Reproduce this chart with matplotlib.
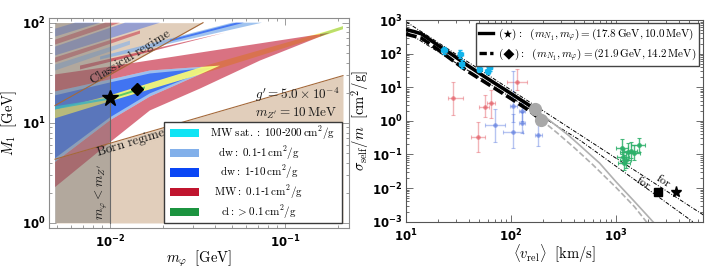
import numpy as np
import matplotlib
matplotlib.use("Agg")
import matplotlib.pyplot as plt
import matplotlib.ticker as mticker
from matplotlib.lines import Line2D
from matplotlib.patches import Rectangle
from matplotlib.font_manager import FontProperties

# ---------------------------------------------------------------------------
# Left panel data: (m_phi [GeV], M_1 [GeV]) plane
# ---------------------------------------------------------------------------
M_PHI_MIN, M_PHI_MAX = 0.00485, 0.2145
M1_MIN, M1_MAX = 1.0, 100.0
M_ZP = 0.01

born_m = [0.00485, 0.2145]
born_M = [4.33, 29.6]
classical_m = [0.00485, 0.0340]
classical_M = [14.9, 100.0]

# MW (0.1-1 cm^2/g) region, with the notch where the dw bands sit
red_m = [0.00485, 0.0100, 0.0327, 0.181, 0.0720, 0.0327, 0.0169, 0.0100, 0.00485,
         0.00485, 0.0100, 0.0169, 0.0425, 0.0169, 0.0100, 0.00485]
red_M = [30.4, 36.5, 50.3, 79.5, 41.9, 22.0, 13.3, 6.40, 2.28,
         4.05, 10.6, 18.3, 37.3, 33.3, 27.1, 20.6]
red2_m = [0.00674, 0.0454, 0.00674]
red2_M = [37.3, 79.5, 34.1]

# dw bands
halo_m = [0.00485, 0.0100, 0.0169, 0.0425, 0.0169, 0.0100, 0.00485]
halo_M = [20.6, 27.1, 33.3, 37.3, 18.3, 10.6, 4.05]
blue_m = [0.00485, 0.0100, 0.0169, 0.0388, 0.0169, 0.0100, 0.00485]
blue_M = [18.8, 25.3, 31.1, 35.7, 19.7, 11.35, 4.43]
lb_up_m = [0.00877, 0.0498, 0.0739, 0.00877]
lb_up_M = [45.9, 100.0, 100.0, 42.9]
blue_up_m = [0.0220, 0.0525, 0.0583, 0.0220]
blue_up_M = [67.7, 100.0, 100.0, 64.7]

# narrow core bands
yellow_m = [0.00485, 0.0100, 0.0388, 0.181, 0.2145, 0.2145, 0.181, 0.0388, 0.0100, 0.00485]
yellow_M = [13.6, 18.8, 39.1, 84.2, 92.3, 86.1, 77.8, 33.3, 16.4, 11.1]
sat_m = [0.00485, 0.0100, 0.0100, 0.00485]
sat_M = [14.6, 17.9, 17.1, 13.6]
cl_core_m = [0.0100, 0.01585, 0.01585, 0.0100]
cl_core_M = [17.9, 23.1, 22.0, 17.1]
cl_tip_m = [0.1585, 0.2145, 0.2145, 0.1585]
cl_tip_M = [77.8, 92.3, 86.1, 72.6]

# stripes in the classical corner
stripe_a_m = [0.00485, 0.00631, 0.00877, 0.00485]
stripe_a_M = [87.1, 100.0, 100.0, 72.6]
stripe_b_m = [0.00485, 0.00936, 0.0114, 0.00485]
stripe_b_M = [67.7, 100.0, 100.0, 60.4]
stripe_c_m = [0.00485, 0.01218, 0.01931, 0.00485]
stripe_c_M = [57.7, 100.0, 100.0, 47.0]
stripe_d_m = [0.00485, 0.01484, 0.01484, 0.00485]
stripe_d_M = [44.9, 83.3, 77.8, 40.0]
stripe_e_m = [0.00485, 0.0130, 0.0130, 0.00485]
stripe_e_M = [38.2, 66.2, 60.4, 33.3]

bench_star = (0.0100, 17.8)
bench_dia = (0.0142, 21.9)

# ---------------------------------------------------------------------------
# Right panel data: sigma/m [cm^2/g] vs <v_rel> [km/s]
# ---------------------------------------------------------------------------
star_v = [10, 12, 14, 20, 28, 38, 60, 100, 140, 170]
star_s = [520, 450, 390, 180, 90, 46, 18, 6.5, 3.3, 2.2]
dia_v = [10, 12, 14, 20, 28, 38, 60, 100, 150, 195]
dia_s = [380, 330, 290, 135, 62, 31, 12.6, 4.6, 2.0, 1.06]
star_tail_v = [170, 250, 350, 450, 700, 1000, 1500, 2000, 2400]
star_tail_s = [2.2, 0.87, 0.38, 0.19, 0.055, 0.0155, 0.004, 0.0015, 0.0008]
dia_tail_v = [195, 280, 400, 600, 1000, 1500, 2000]
dia_tail_s = [1.06, 0.42, 0.16, 0.05, 0.0105, 0.0028, 0.0009]
for_star_v = [10, 7000]
for_star_s = [890, 1.5e-3]
for_dia_v = [10, 100, 450, 1500, 5400]
for_dia_s = [450, 5.0, 0.27, 0.018, 0.001]

sat_v = [23, 33, 34, 50, 60, 62, 63]
sat_s = [125, 100, 50, 36, 31, 52, 40]
sat_v_err = [1.5, 2, 2, 2.5, 3, 3, 3]
sat_s_lo = [30, 25, 12, 8, 7, 12, 10]
sat_s_hi = [35, 30, 15, 10, 9, 15, 12]

mw_v = [28, 48, 56, 65, 113]
mw_s = [4.7, 0.34, 2.6, 3.5, 14.6]
mw_v_lo = [3, 6, 6, 6, 22]
mw_v_hi = [7, 9, 6, 6, 28]
mw_s_lo = [3.2, 0.22, 1.3, 2.3, 6.4]
mw_s_hi = [9.3, 0.61, 3.3, 5.0, 21]

dw_v = [70, 105, 105, 126, 126, 182]
dw_s = [0.75, 0.48, 2.75, 1.9, 0.84, 0.38]
dw_v_lo = [14, 21, 8, 8, 8, 12]
dw_v_hi = [18, 26, 10, 10, 10, 14]
dw_s_lo = [0.51, 0.32, 1.8, 0.9, 0.4, 0.2]
dw_s_hi = [1.55, 1.1, 28, 2.0, 1.0, 0.4]

cl_v = [1150, 1250, 1300, 1400, 1500, 1650, 1200, 1180]
cl_s = [0.16, 0.07, 0.12, 0.13, 0.11, 0.19, 0.055, 0.085]
cl_v_err = [150, 150, 200, 200, 200, 250, 150, 150]
cl_s_lo = [0.06, 0.03, 0.05, 0.05, 0.04, 0.07, 0.02, 0.03]
cl_s_hi = [0.12, 0.05, 0.10, 0.10, 0.08, 0.12, 0.04, 0.06]

# ---------------------------------------------------------------------------
COLORS = {
    "sat": "#10E4F4",
    "dw_lo": "#82B0EA",
    "dw_hi": "#0A46F5",
    "mw": "#C0152F",
    "cl": "#1C9440",
    "yellow": "#FFFF72",
    "tan": "#E1CEBB",
    "edge": "#A4693A",
}
SERIF = "DejaVu Serif"


def log_fmt(v, _):
    return r"$\mathbf{10^{%d}}$" % int(round(np.log10(v)))


def style_axes(ax, frame_color):
    for sp in ax.spines.values():
        sp.set_color(frame_color)
        sp.set_linewidth(0.8)
    ax.tick_params(which="both", direction="in", top=True, right=True,
                   color=frame_color, width=0.6, labelcolor="black")
    ax.tick_params(which="major", length=5, labelsize=8.5, pad=2.5)
    ax.tick_params(which="minor", length=2.5)
    ax.tick_params(axis="x", which="major", pad=4)
    for axis in (ax.xaxis, ax.yaxis):
        axis.set_major_locator(mticker.LogLocator(base=10, numticks=20))
        axis.set_minor_locator(mticker.LogLocator(base=10, subs=np.arange(2, 10), numticks=20))
        axis.set_major_formatter(mticker.FuncFormatter(log_fmt))
        axis.set_minor_formatter(mticker.NullFormatter())


fig = plt.figure(figsize=(7.06, 2.72), dpi=100)
fig.patch.set_facecolor("white")

# ------------------------------- left panel --------------------------------
ax = fig.add_axes([0.0694, 0.1618, 0.4249, 0.7721])
ax.set_xscale("log")
ax.set_yscale("log")
ax.set_xlim(0.004481, 0.2321)
ax.set_ylim(0.891, 111.4)

ax.fill_between(born_m, born_M, M1_MIN, color=COLORS["tan"], lw=0, zorder=1)
ax.fill_between(classical_m, classical_M, M1_MAX, color=COLORS["tan"], lw=0, zorder=1)

for sm, sM, c, a in [(stripe_a_m, stripe_a_M, COLORS["dw_hi"], 0.35),
                     (stripe_b_m, stripe_b_M, COLORS["mw"], 0.45),
                     (stripe_c_m, stripe_c_M, COLORS["dw_hi"], 0.35),
                     (stripe_d_m, stripe_d_M, COLORS["mw"], 0.45),
                     (stripe_e_m, stripe_e_M, COLORS["dw_lo"], 0.6)]:
    ax.fill(sm, sM, color=c, alpha=a, lw=0, zorder=2)

ax.fill(lb_up_m, lb_up_M, color=COLORS["dw_lo"], alpha=0.75, lw=0, zorder=2)
ax.fill(blue_up_m, blue_up_M, color=COLORS["dw_hi"], alpha=0.6, lw=0, zorder=2)
ax.fill(red2_m, red2_M, color=COLORS["mw"], alpha=0.6, lw=0, zorder=2)
ax.fill(halo_m, halo_M, color=COLORS["dw_lo"], alpha=0.8, lw=0, zorder=2)
ax.fill(blue_m, blue_M, color=COLORS["dw_hi"], alpha=0.62, lw=0, zorder=2)
ax.fill(yellow_m, yellow_M, color=COLORS["yellow"], alpha=0.9, lw=0, zorder=3)
ax.fill(sat_m, sat_M, color=COLORS["sat"], alpha=0.85, lw=0, zorder=3)
ax.fill(cl_core_m, cl_core_M, color="#3CC060", alpha=0.8, lw=0, zorder=3)
ax.fill(red_m, red_M, color=COLORS["mw"], alpha=0.6, lw=0, zorder=3)
ax.fill(cl_tip_m, cl_tip_M, color=COLORS["cl"], alpha=0.3, lw=0, zorder=3)

# m_phi < m_Z' shading
ax.fill_between([M_PHI_MIN, M_ZP], M1_MIN, M1_MAX, color="#7A7A7A", alpha=0.45, lw=0, zorder=5)
ax.plot([M_ZP, M_ZP], [M1_MIN, M1_MAX], color="#6A6A6A", lw=0.8, zorder=6)
ax.plot(born_m, born_M, color=COLORS["edge"], lw=0.8, zorder=6)
ax.plot(classical_m, classical_M, color=COLORS["edge"], lw=0.8, zorder=6)

ax.plot(*bench_star, marker="*", ms=12, color="black", zorder=8)
ax.plot(*bench_dia, marker="D", ms=6, color="black", zorder=8)

tkw = dict(math_fontfamily="cm", family=SERIF, color="#1A1A1A", zorder=9)
ax.text(0.01300, 45.5, r"$\mathrm{Classical\ regime}$", fontsize=9.5, rotation=32,
        ha="center", va="center", **tkw)
ax.text(0.01318, 6.25, r"$\mathrm{Born\ regime}$", fontsize=9.5, rotation=17,
        ha="center", va="center", **tkw)
ax.text(0.00905, 2.03, r"$m_\varphi < m_{Z'}$", fontsize=9.5, rotation=90,
        ha="center", va="center", **tkw)
ax.text(0.688, 0.633, r"$g' = 5.0\times 10^{-4}$", transform=ax.transAxes, fontsize=9.5,
        ha="left", va="center", **tkw)
ax.text(0.688, 0.548, r"$m_{Z'} = 10\,\mathrm{MeV}$", transform=ax.transAxes, fontsize=9.5,
        ha="left", va="center", **tkw)

# legend drawn by hand (text is centred in its column)
leg_labels = [
    r"$\mathrm{MW\ sat.}:\ 100$-$200\,\mathrm{cm}^2/\mathrm{g}$",
    r"$\mathrm{dw}:\ 0.1$-$1\,\mathrm{cm}^2/\mathrm{g}$",
    r"$\mathrm{dw}:\ 1$-$10\,\mathrm{cm}^2/\mathrm{g}$",
    r"$\mathrm{MW}:\ 0.1$-$1\,\mathrm{cm}^2/\mathrm{g}$",
    r"$\mathrm{cl}: > 0.1\,\mathrm{cm}^2/\mathrm{g}$",
]
leg_colors = [COLORS["sat"], COLORS["dw_lo"], COLORS["dw_hi"], COLORS["mw"], COLORS["cl"]]
ax.add_patch(Rectangle((0.383, 0.024), 0.595, 0.482, transform=ax.transAxes,
                       facecolor="white", edgecolor="#3A3A3A", lw=1.0, zorder=10))
for i, (lab, col) in enumerate(zip(leg_labels, leg_colors)):
    yc = 0.452 - i * 0.094
    ax.add_patch(Rectangle((0.403, yc - 0.02), 0.098, 0.04, transform=ax.transAxes,
                           facecolor=col, edgecolor="none", zorder=11))
    ax.text(0.745 if i == 0 else 0.70, yc, lab, transform=ax.transAxes, fontsize=8,
            ha="center", va="center", math_fontfamily="cm", family=SERIF, zorder=11)

style_axes(ax, "#8C8C8C")
ax.set_xlabel(r"$m_\varphi\ \ [\mathrm{GeV}]$", fontsize=10.5, math_fontfamily="cm", labelpad=-1)
ax.set_ylabel(r"$M_1\ \ [\mathrm{GeV}]$", fontsize=10.5, math_fontfamily="cm", labelpad=2)

# ------------------------------- right panel -------------------------------
bx = fig.add_axes([0.5751, 0.1849, 0.4211, 0.7415])
bx.set_xscale("log")
bx.set_yscale("log")
bx.set_xlim(10, 6800)
bx.set_ylim(1e-3, 1e3)

dashdot = (0, (4, 1.6, 1, 1.6))
bx.plot(for_star_v, for_star_s, color="black", lw=0.7, ls=dashdot, zorder=2)
bx.plot(for_dia_v, for_dia_s, color="black", lw=0.7, ls=dashdot, zorder=2)
bx.plot(star_tail_v, star_tail_s, color="#B0B0B0", lw=1.2, zorder=2)
bx.plot(dia_tail_v, dia_tail_s, color="#B0B0B0", lw=1.2, ls=(0, (3.5, 1.5)), zorder=2)

ekw = dict(fmt="o", ms=2.5, capsize=1.5, elinewidth=1.0, capthick=0.8)
bx.errorbar(mw_v, mw_s, xerr=[mw_v_lo, mw_v_hi], yerr=[mw_s_lo, mw_s_hi],
            color="#E0454F", alpha=0.4, zorder=3, **ekw)
bx.errorbar(dw_v, dw_s, xerr=[dw_v_lo, dw_v_hi], yerr=[dw_s_lo, dw_s_hi],
            color="#4A6CDC", alpha=0.4, zorder=3, **ekw)
bx.errorbar(cl_v, cl_s, xerr=cl_v_err, yerr=[cl_s_lo, cl_s_hi],
            color="#2DB06A", alpha=0.85, zorder=3, **ekw)

bx.plot(star_v, star_s, color="black", lw=2.6, zorder=4, solid_capstyle="butt")
bx.plot(dia_v, dia_s, color="black", lw=2.6, ls=(0, (3, 1.1)), zorder=4)
bx.errorbar(sat_v, sat_s, xerr=sat_v_err, yerr=[sat_s_lo, sat_s_hi],
            color="#12B4EC", zorder=5, fmt="s", ms=3.5, capsize=1.5, elinewidth=1.6, capthick=1.0)
bx.plot(star_v[-1], star_s[-1], "o", ms=8.5, color="#A8A8A8", zorder=6)
bx.plot(dia_v[-1], dia_s[-1], "o", ms=8.5, color="#A8A8A8", zorder=6)

bx.text(2820, 0.0165, r"$\mathrm{for}$", rotation=-33, fontsize=8.5, ha="center", va="center",
        math_fontfamily="cm", zorder=7)
bx.text(1820, 0.0145, r"$\mathrm{for}$", rotation=-33, fontsize=8.5, ha="center", va="center",
        math_fontfamily="cm", zorder=7)
bx.plot(3700, 0.0078, marker="*", ms=8, color="black", zorder=7)
bx.plot(2500, 0.0078, marker="s", ms=5.5, color="black", zorder=7)

handles = [Line2D([], [], color="black", lw=2.4),
           Line2D([], [], color="black", lw=2.4, ls=(0, (2.2, 1.0)))]
labels = [r"$(\bigstar):\ \ (m_{N_1}, m_\varphi) = (17.8\,\mathrm{GeV}, 10.0\,\mathrm{MeV})$",
          "$(\u25C6):\\ \\ (m_{N_1}, m_\\varphi) = (21.9\\,\\mathrm{GeV}, 14.2\\,\\mathrm{MeV})$"]
leg = bx.legend(handles, labels, loc="upper right", bbox_to_anchor=(0.985, 0.985),
                prop=FontProperties(family=SERIF, size=8, math_fontfamily="cm"),
                frameon=True, fancybox=False, framealpha=1, edgecolor="#444444",
                handlelength=1.3, handletextpad=0.4, borderpad=0.25, labelspacing=0.35,
                borderaxespad=0.0)
leg.get_frame().set_linewidth(1.0)
leg.set_zorder(10)

style_axes(bx, "#555555")
bx.set_xlabel(r"$\langle v_\mathrm{rel}\rangle\ \ [\mathrm{km/s}]$", fontsize=10.5,
              math_fontfamily="cm", labelpad=-1)
bx.set_ylabel(r"$\sigma_\mathrm{self}/m\ \ [\mathrm{cm}^2/\mathrm{g}]$", fontsize=10.5,
              math_fontfamily="cm", labelpad=1)

fig.savefig("out.png", dpi=100, facecolor="white")
